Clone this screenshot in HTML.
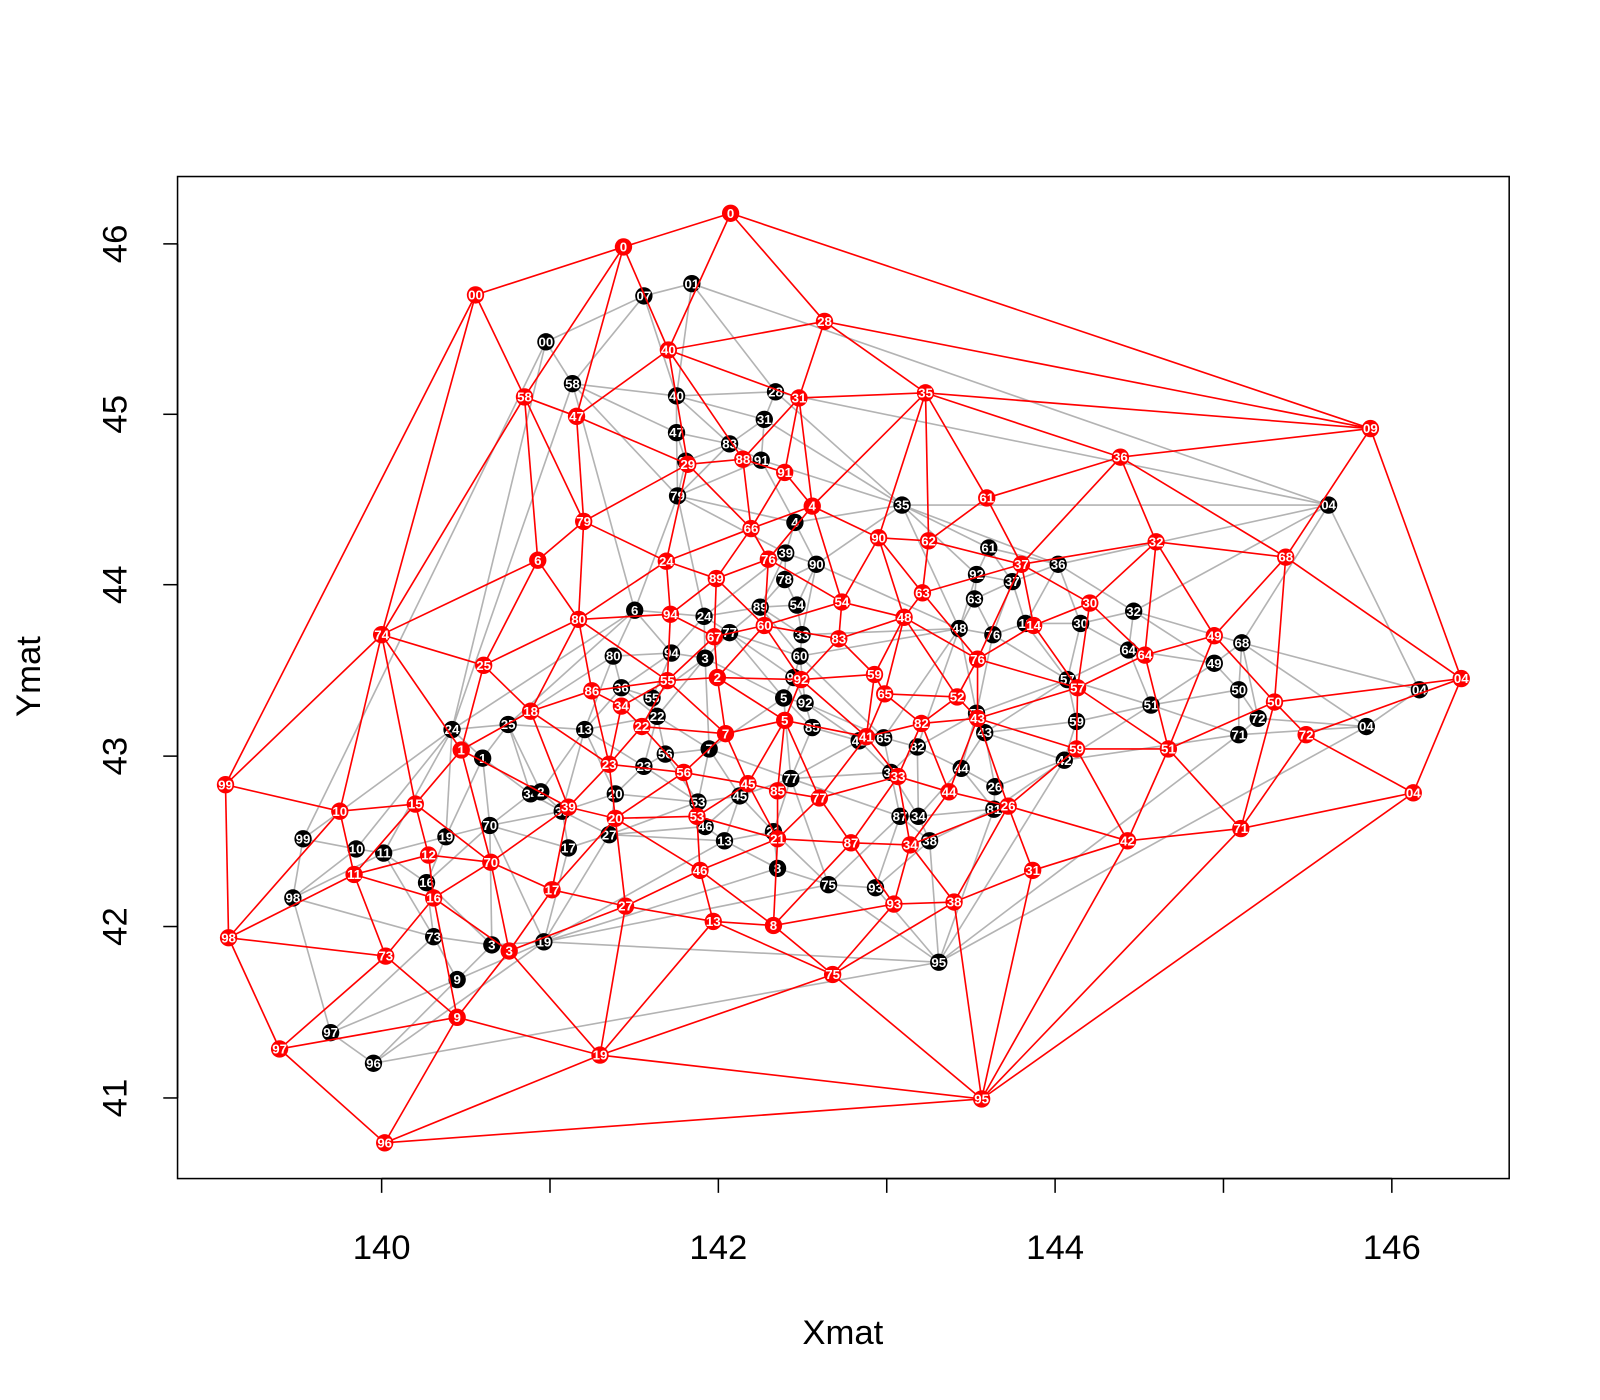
<!DOCTYPE html>
<html><head><meta charset="utf-8"><style>
html,body{margin:0;padding:0;background:#fff;}
svg{display:block;font-family:"Liberation Sans",sans-serif;}
</style></head><body>
<svg id="s" width="1600" height="1400" viewBox="0 0 1568 1372" preserveAspectRatio="none" xmlns="http://www.w3.org/2000/svg">
<rect width="1568" height="1372" fill="#fff"/>
<g id="gE" stroke="#b3b3b3" stroke-width="1.6" fill="none"></g>
<g id="gP"></g>
<g id="rE" stroke="#ff0000" stroke-width="1.6" fill="none"></g>
<g id="rP"></g>
<rect x="174" y="173" width="1305" height="982" fill="none" stroke="#000" stroke-width="1.5"/>
<g stroke="#000" stroke-width="1.5">
<line x1="374" y1="1155" x2="1364" y2="1155"/>
<line x1="374" y1="1155" x2="374" y2="1169"/><line x1="539" y1="1155" x2="539" y2="1169"/>
<line x1="704" y1="1155" x2="704" y2="1169"/><line x1="869" y1="1155" x2="869" y2="1169"/>
<line x1="1034" y1="1155" x2="1034" y2="1169"/><line x1="1199" y1="1155" x2="1199" y2="1169"/>
<line x1="1364" y1="1155" x2="1364" y2="1169"/>
<line x1="174" y1="239" x2="174" y2="1076"/>
<line x1="160" y1="239" x2="174" y2="239"/><line x1="160" y1="406" x2="174" y2="406"/>
<line x1="160" y1="573" x2="174" y2="573"/><line x1="160" y1="741" x2="174" y2="741"/>
<line x1="160" y1="908" x2="174" y2="908"/><line x1="160" y1="1076" x2="174" y2="1076"/>
</g>
<g font-size="34" fill="#000" text-anchor="middle">
<text x="374" y="1234">140</text><text x="704" y="1234">142</text>
<text x="1034" y="1234">144</text><text x="1364" y="1234">146</text>
<text transform="translate(124,239) rotate(-90)">46</text>
<text transform="translate(124,406) rotate(-90)">45</text>
<text transform="translate(124,573) rotate(-90)">44</text>
<text transform="translate(124,741) rotate(-90)">43</text>
<text transform="translate(124,908) rotate(-90)">42</text>
<text transform="translate(124,1076) rotate(-90)">41</text>
<text x="826" y="1317">Xmat</text>
<text transform="translate(39,663) rotate(-90)">Ymat</text>
</g>
</svg>
<script>
var red=[["0",716,209],["0",611,242],["00",466,289],["28",808,315],["40",655,343],["58",514,389],["47",565,408],["31",783,390],["35",907,385],["09",1343,420],["36",1098,448],["88",728,450],["29",674,455],["91",769,463],["61",967,488],["4",796,496],["79",572,511],["66",736,518],["90",861,527],["62",910,530],["32",1133,531],["68",1260,546],["6",527,549],["24",653,550],["76",753,548],["89",702,567],["37",1001,553],["63",904,581],["54",825,590],["30",1068,591],["74",374,622],["80",567,607],["94",657,602],["48",886,605],["60",749,613],["14",1013,613],["83",822,626],["67",700,624],["49",1190,623],["64",1122,642],["76",958,646],["25",474,652],["55",654,667],["2",703,664],["92",785,666],["59",857,661],["86",580,677],["34",609,692],["57",1056,674],["04",1432,665],["65",867,680],["52",938,683],["18",520,697],["50",1249,688],["43",958,704],["5",769,706],["82",903,709],["22",629,712],["72",1280,720],["7",711,719],["41",849,722],["1",452,735],["51",1145,734],["59",1055,734],["23",597,749],["56",670,757],["33",880,761],["45",733,768],["85",762,775],["99",221,769],["44",930,776],["77",803,782],["26",988,790],["04",1385,777],["15",407,788],["10",333,795],["39",557,791],["20",603,802],["53",683,800],["71",1216,812],["87",834,826],["42",1105,824],["21",762,822],["34",892,828],["12",420,838],["70",481,845],["46",686,853],["31",1012,853],["11",347,857],["16",425,880],["17",541,872],["27",613,888],["93",876,886],["38",935,884],["13",699,903],["8",758,907],["98",224,919],["3",499,932],["73",378,937],["75",816,955],["9",448,997],["97",274,1028],["19",588,1034],["95",962,1077],["96",377,1120]];
var blk=[["01",678,278],["07",631,290],["00",535,335],["58",561,376],["40",663,388],["28",760,384],["31",749,411],["47",663,424],["83",715,435],["91",746,451],["29",672,452],["79",664,486],["35",884,495],["04",1302,495],["4",779,512],["61",969,537],["39",770,542],["90",800,553],["36",1037,553],["92",957,563],["78",769,568],["37",992,570],["63",955,587],["89",745,595],["54",781,593],["32",1111,599],["6",622,598],["24",690,604],["11",1005,611],["30",1059,611],["77",715,620],["48",940,616],["76",973,622],["33",786,622],["68",1217,630],["80",601,643],["94",658,640],["3",691,645],["60",784,643],["64",1106,637],["49",1190,650],["93",778,664],["36",609,674],["55",639,684],["57",1046,666],["04",1391,676],["50",1214,676],["22",644,702],["5",768,684],["92",789,689],["52",957,699],["51",1128,691],["85",796,713],["24",443,715],["25",498,710],["13",573,715],["59",1055,707],["72",1233,704],["43",965,718],["04",1339,712],["71",1214,720],["1",473,743],["7",695,734],["41",842,726],["65",866,723],["82",899,732],["42",1043,745],["56",652,739],["23",631,751],["44",942,753],["33",873,757],["20",603,778],["34",520,778],["2",530,776],["26",975,771],["77",775,763],["45",725,780],["53",684,786],["39",551,795],["87",882,800],["46",691,810],["34",900,800],["81",974,793],["99",297,822],["70",480,809],["27",597,818],["13",710,824],["21",758,815],["19",437,820],["10",349,832],["11",376,836],["17",557,831],["38",911,824],["8",762,851],["16",418,865],["75",812,867],["93",858,870],["98",287,880],["73",425,918],["3",482,926],["19",533,923],["9",448,960],["95",920,943],["97",324,1012],["96",366,1042]];
function delaunay(pts){
 var P=pts.map(function(p){return [p[1],p[2]];});
 var n=P.length;P.push([-10000,-10000],[10000,-10000],[0,10000]);
 function cc(a,b,c){var ax=P[a][0],ay=P[a][1],bx=P[b][0],by=P[b][1],cx=P[c][0],cy=P[c][1];
  var d=2*(ax*(by-cy)+bx*(cy-ay)+cx*(ay-by));
  var ux=((ax*ax+ay*ay)*(by-cy)+(bx*bx+by*by)*(cy-ay)+(cx*cx+cy*cy)*(ay-by))/d;
  var uy=((ax*ax+ay*ay)*(cx-bx)+(bx*bx+by*by)*(ax-cx)+(cx*cx+cy*cy)*(bx-ax))/d;
  return [ux,uy,(ax-ux)*(ax-ux)+(ay-uy)*(ay-uy)];}
 var T=[[n,n+1,n+2,cc(n,n+1,n+2)]];
 for(var i=0;i<n;i++){
  var x=P[i][0],y=P[i][1],bad=[],keep=[];
  T.forEach(function(t){var c=t[3];if((x-c[0])*(x-c[0])+(y-c[1])*(y-c[1])<c[2])bad.push(t);else keep.push(t);});
  var ec={};
  bad.forEach(function(t){[[t[0],t[1]],[t[1],t[2]],[t[2],t[0]]].forEach(function(e){var k=Math.min(e[0],e[1])+"_"+Math.max(e[0],e[1]);ec[k]=(ec[k]||0)+1;});});
  bad.forEach(function(t){[[t[0],t[1]],[t[1],t[2]],[t[2],t[0]]].forEach(function(e){var k=Math.min(e[0],e[1])+"_"+Math.max(e[0],e[1]);if(ec[k]===1)keep.push([e[0],e[1],i,cc(e[0],e[1],i)]);});});
  T=keep;}
 var E={};
 T.forEach(function(t){if(t[0]>=n||t[1]>=n||t[2]>=n)return;[[t[0],t[1]],[t[1],t[2]],[t[2],t[0]]].forEach(function(e){E[Math.min(e[0],e[1])+"_"+Math.max(e[0],e[1])]=e;});});
 return Object.keys(E).map(function(k){return E[k];});
}
var NS="http://www.w3.org/2000/svg";
function el(t,a,par){var e=document.createElementNS(NS,t);for(var k in a)e.setAttribute(k,a[k]);par.appendChild(e);return e;}
function draw(pts,eg,pg,col){
 delaunay(pts).forEach(function(e){el("line",{x1:pts[e[0]][1],y1:pts[e[0]][2],x2:pts[e[1]][1],y2:pts[e[1]][2]},eg);});
 pts.forEach(function(p){el("circle",{cx:p[1],cy:p[2],r:8.5,fill:col},pg);
  var t=el("text",{x:p[1],y:p[2]+4.5,"font-size":13,"font-weight":"bold",fill:"#fff","text-anchor":"middle"},pg);t.textContent=p[0];});
}
draw(blk,document.getElementById("gE"),document.getElementById("gP"),"#000");
draw(red,document.getElementById("rE"),document.getElementById("rP"),"#ff0000");
</script>
</body></html>
